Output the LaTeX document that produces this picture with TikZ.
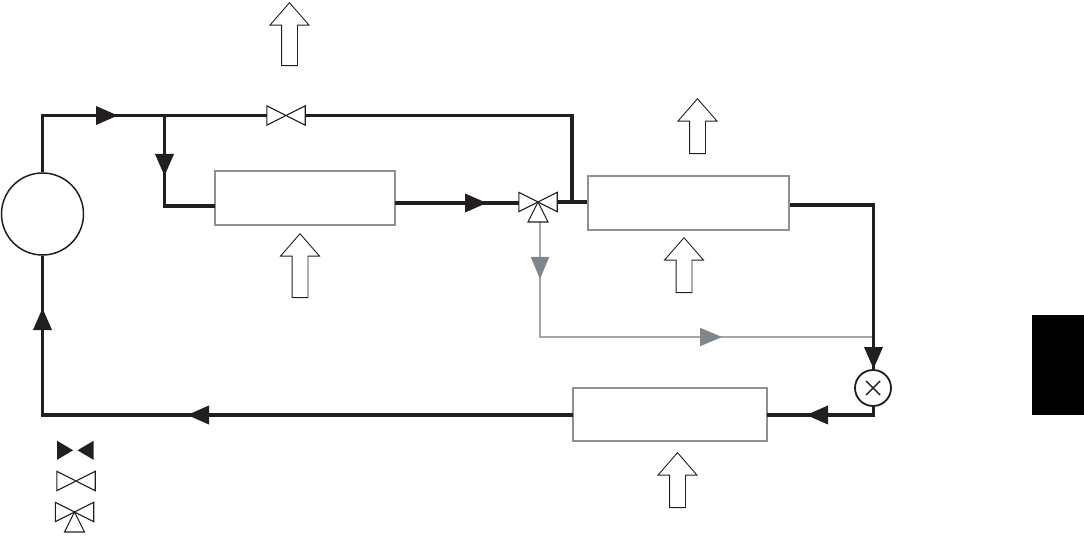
\documentclass[tikz,border=0pt]{standalone}
\usepackage{xcolor}
\usepackage{tikz}
\usetikzlibrary{shapes.arrows, arrows.meta}
\definecolor{pipeblack}{HTML}{231F20}
\definecolor{boxgray}{HTML}{8C9196}
\definecolor{linegray}{HTML}{A3A7AA}
\definecolor{tipgray}{HTML}{80878C}
\tikzstyle{unit} = [rectangle, inner sep=0, draw=boxgray, line width=1.8pt, fill=white]
\tikzstyle{pump} = [circle, inner sep=0, minimum size=82pt, draw=pipeblack, line width=1.5pt, fill=white]
\tikzstyle{xvalve} = [circle, inner sep=0, minimum size=36pt, draw=pipeblack, line width=1.8pt, fill=white]
\tikzstyle{valvebox} = [rectangle, inner sep=0, minimum width=38pt, minimum height=19pt]
\tikzstyle{valveline} = [draw=pipeblack, line width=1.1pt, fill=white, line join=miter]
\tikzstyle{heat} = [single arrow, shape border rotate=90, anchor=tip, inner sep=7.5pt, minimum width=38pt, single arrow head extend=11.5pt, single arrow tip angle=82, draw=pipeblack, line width=0.9pt, fill=white]
\tikzstyle{pipe} = [draw=pipeblack, line width=3.6pt, line join=miter]
\tikzstyle{bypass} = [draw=linegray, line width=2pt]
\tikzstyle{arrow} = [pipe, -{Triangle[length=22pt,width=18pt]}]
\tikzstyle{grayarrow} = [draw=linegray, line width=2pt, -{Triangle[length=22pt,width=18pt,color=tipgray]}]
\newcommand{\bowvalve}[2]{
\node (#1) [valvebox] at (#2) {};
\draw [valveline] (#1.south west) -- (#1.north east) -- (#1.south east) -- (#1.north west) -- cycle;
}
\newcommand{\threevalve}[2]{
\bowvalve{#1}{#2}
\draw [valveline] (#1.center) -- ++(-10,20) -- ++(20,0) -- cycle;
}
\begin{document}
\begin{tikzpicture}[x=1pt, y=-1pt]
\useasboundingbox (0,0) rectangle (1084,553);

\node (pump) [pump] at (42.5,214) {};
\node (box1) [unit, minimum width=180pt, minimum height=54pt] at (305,198) {};
\node (box2) [unit, minimum width=201pt, minimum height=54pt] at (688.5,203) {};
\node (box3) [unit, minimum width=194pt, minimum height=53pt] at (670,414.5) {};
\node (xval) [xvalve] at (873,388) {};
\node (block) [rectangle, inner sep=0, fill=black, minimum width=52pt, minimum height=100pt] at (1058,365) {};

% coordinates on the pipes
\coordinate (c1) at (42.5,115.5);
\coordinate (c2) at (164.5,115.5);
\coordinate (c3) at (572,115.5);
\coordinate (c4) at (164.5,206);
\coordinate (c5) at (215,206);
\coordinate (c6) at (395,203);
\coordinate (c7) at (572,203);
\coordinate (c8) at (790,205);
\coordinate (c9) at (873.5,205);
\coordinate (c10) at (873.5,415);
\coordinate (c11) at (767,415);
\coordinate (c12) at (573,415);
\coordinate (c13) at (42.5,415);
\coordinate (c14) at (540,222);
\coordinate (c15) at (540,337);
\coordinate (c16) at (873,337);

% arrow tips
\coordinate (t1) at (118,115.5);
\coordinate (t2) at (164.5,176);
\coordinate (t3) at (487,203);
\coordinate (t4) at (873.5,369);
\coordinate (t5) at (806,415);
\coordinate (t6) at (187,415);
\coordinate (t7) at (42.5,308);
\coordinate (t8) at (540,279);
\coordinate (t9) at (722,337);

\draw [bypass] (c14) |- (c16);
\draw [grayarrow] (c14) -- (t8);
\draw [grayarrow] (c15) -- (t9);

\bowvalve{vtop}{286,115.5}
\threevalve{vmid}{538,202}

\draw [pipe] (pump.north) -- (c1) -- (vtop.west);
\draw [pipe] (vtop.east) -- (c3) -- (c7);
\draw [pipe] (c2) -- (c4) -- (c5);
\draw [pipe] (c6) -- (c6 -| vmid.west);
\draw [pipe] (vmid.east) -- (vmid.east -| box2.west);
\draw [pipe] (c8) -- (c9) -- (c9 |- xval.north);
\draw [pipe] (c9 |- xval.south) -- (c10) -- (c11);
\draw [pipe] (c12) -- (c13) -- (pump.south -| c13);

\draw [arrow] (c1) -- (t1);
\draw [arrow] (c2) -- (t2);
\draw [arrow] (c6) -- (t3);
\draw [arrow] (c9) -- (t4);
\draw [arrow] (c10) -- (t5);
\draw [arrow] (c12) -- (t6);
\draw [arrow] (c13) -- (t7);

\draw [pipeblack, line width=1.4pt] ([xshift=-7pt,yshift=-7pt]xval.center) -- ([xshift=7pt,yshift=7pt]xval.center);
\draw [pipeblack, line width=1.4pt] ([xshift=-7pt,yshift=7pt]xval.center) -- ([xshift=7pt,yshift=-7pt]xval.center);

\node (heat1) [heat, minimum height=63pt] at (289.5,2) {};
\node (heat2) [heat, minimum height=64pt] at (300,233) {};
\node (heat3) [heat, minimum height=55pt] at (697.5,98) {};
\node (heat4) [heat, minimum height=55pt] at (684,237) {};
\node (heat5) [heat, minimum height=55pt] at (677.5,452) {};

% legend
\node (legopen) [valvebox, minimum width=36pt] at (75.3,450.5) {};
\fill [pipeblack] (legopen.north west) -- ++(16,9.5) -- ++(-16,9.5) -- cycle;
\fill [pipeblack] (legopen.north east) -- ++(-16,9.5) -- ++(16,9.5) -- cycle;
\bowvalve{legclosed}{76,481}
\threevalve{legthree}{74.5,512}
\end{tikzpicture}
\end{document}
